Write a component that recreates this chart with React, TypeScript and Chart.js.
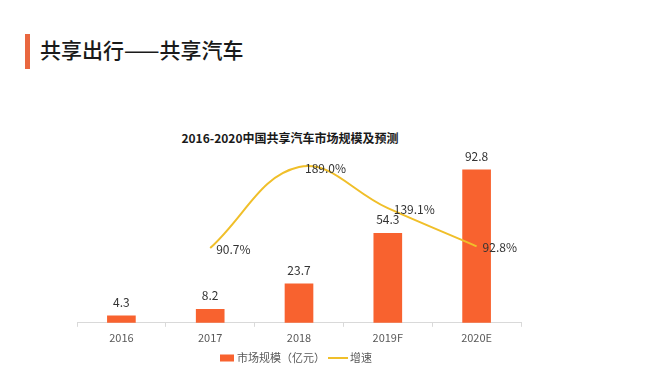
import React, { useEffect, useRef } from "react";
import { Chart, registerables } from "chart.js";

Chart.register(...registerables);

const categories = ["2016", "2017", "2018", "2019F", "2020E"];
const marketSize = [4.3, 8.2, 23.7, 54.3, 92.8];
const growthRate: (number | null)[] = [null, 90.7, 189.0, 139.1, 92.8];
const seriesNames = ["市场规模（亿元）", "增速"];
const pageTitle = "共享出行——共享汽车";
const chartTitle = "2016-2020中国共享汽车市场规模及预测";

const FONT = "'Noto Sans CJK SC', 'Noto Sans', sans-serif";
const BAR_COLOR = "#F8622F";
const LINE_COLOR = "#F0BF2A";

const labelPlugin = {
  id: "valueLabels",
  afterDatasetsDraw(chart: any) {
    const ctx = chart.ctx;
    ctx.save();
    ctx.font = `12px ${FONT}`;
    ctx.fillStyle = "#333333";
    const barMeta = chart.getDatasetMeta(0);
    barMeta.data.forEach((el: any, i: number) => {
      ctx.textAlign = "center";
      ctx.textBaseline = "alphabetic";
      ctx.fillText(marketSize[i].toFixed(1), el.x, el.y - 9);
    });
    const lineMeta = chart.getDatasetMeta(1);
    lineMeta.data.forEach((el: any, i: number) => {
      const v = growthRate[i];
      if (v == null) return;
      ctx.textAlign = "left";
      ctx.textBaseline = "middle";
      ctx.fillText(v.toFixed(1) + "%", el.x + 6, el.y + 1);
    });
    // legend
    const ly = 358;
    ctx.font = `11px ${FONT}`;
    ctx.fillStyle = BAR_COLOR;
    ctx.fillRect(220, ly - 3.5, 14, 7);
    ctx.fillStyle = "#595959";
    ctx.textAlign = "left";
    ctx.textBaseline = "middle";
    ctx.fillText(seriesNames[0], 237, ly);
    ctx.strokeStyle = LINE_COLOR;
    ctx.lineWidth = 2;
    ctx.beginPath();
    ctx.moveTo(328, ly);
    ctx.lineTo(348, ly);
    ctx.stroke();
    ctx.fillText(seriesNames[1], 350, ly);
    ctx.restore();
  },
};

export default function App() {
  const ref = useRef<HTMLCanvasElement>(null);
  useEffect(() => {
    if (!ref.current) return;
    const chart = new Chart(ref.current, {
      type: "bar",
      data: {
        labels: categories,
        datasets: [
          {
            type: "bar",
            label: seriesNames[0],
            data: marketSize,
            backgroundColor: BAR_COLOR,
            barThickness: 28,
            yAxisID: "y",
            order: 2,
          },
          {
            type: "line",
            label: seriesNames[1],
            data: growthRate as any,
            borderColor: LINE_COLOR,
            backgroundColor: LINE_COLOR,
            borderWidth: 2,
            pointRadius: 0,
            tension: 0.4,
            yAxisID: "y1",
            order: 1,
          },
        ],
      } as any,
      options: {
        animation: false,
        responsive: false,
        maintainAspectRatio: false,
        layout: { padding: { left: 77, right: 130, top: 158, bottom: 37 } },
        plugins: {
          legend: { display: false },
          title: { display: false },
          tooltip: { enabled: false },
        },
        scales: {
          x: {
            grid: {
              display: true,
              drawOnChartArea: false,
              drawTicks: true,
              tickLength: 4,
              color: "#d9d9d9",
            },
            border: { color: "#d9d9d9" },
            ticks: { color: "#595959", font: { family: FONT, size: 11 }, padding: 4 },
          },
          y: { display: false, min: 0, max: 100 },
          y1: { display: false, min: 0, max: 200, position: "right" },
        },
      } as any,
      plugins: [labelPlugin],
    });
    return () => chart.destroy();
  }, []);

  return (
    <div style={{ position: "absolute", left: 0, top: 0, width: 651, height: 385, background: "#fff" }}>
      <div style={{ position: "absolute", left: 25, top: 34, width: 5, height: 35, background: "#E9673F" }} />
      <div
        style={{
          position: "absolute",
          left: 40,
          top: 37,
          lineHeight: "24px",
          fontSize: 21,
          fontFamily: FONT,
          fontWeight: 500,
          color: "#1a1a1a",
          whiteSpace: "nowrap",
        }}
      >
        {pageTitle}
      </div>
      <div
        style={{
          position: "absolute",
          left: 160,
          width: 260,
          top: 131,
          lineHeight: "14px",
          fontSize: 12,
          fontFamily: FONT,
          fontWeight: 700,
          color: "#1a1a1a",
          textAlign: "center",
          whiteSpace: "nowrap",
        }}
      >
        {chartTitle}
      </div>
      <canvas ref={ref} width={651} height={385} style={{ position: "absolute", left: 0, top: 0, display: "block" }} />
    </div>
  );
}
